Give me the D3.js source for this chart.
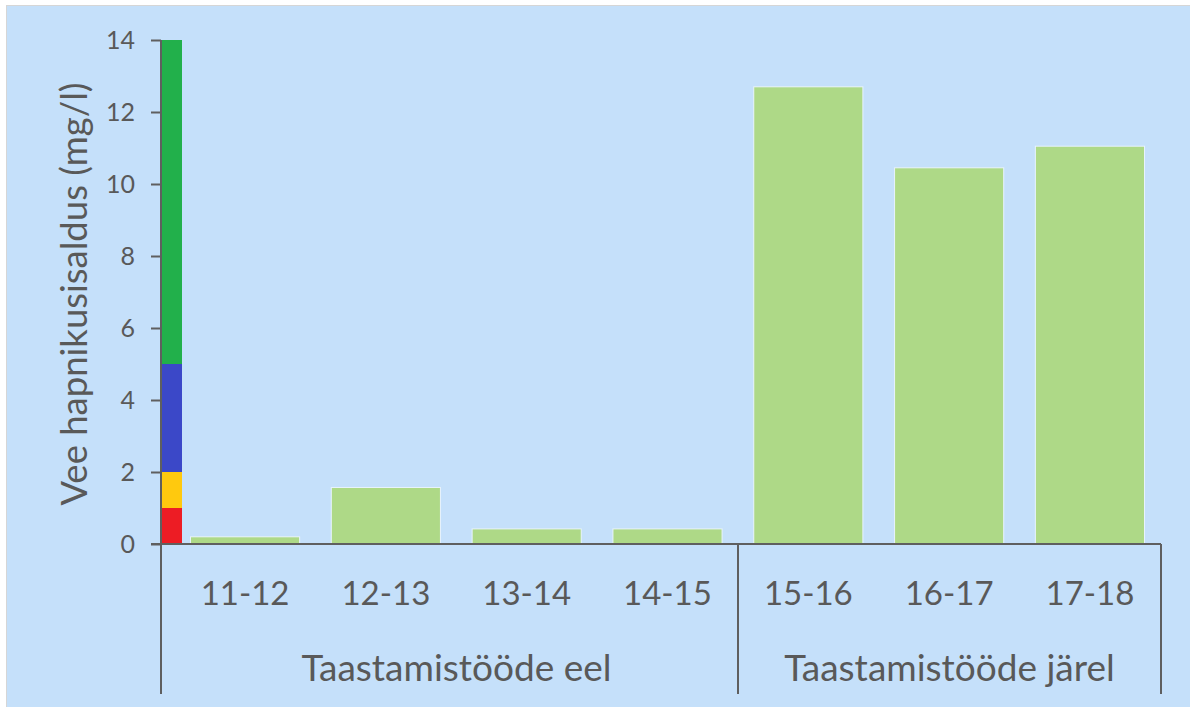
<!DOCTYPE html>
<html>
<head>
<meta charset="utf-8">
<script src="https://cdn.jsdelivr.net/npm/d3@7"></script>
<style>
  body { margin: 0; background: #ffffff; }
  text { font-family: Lato, "Open Sans", sans-serif; fill: #595959; }
</style>
</head>
<body>
<svg width="1190" height="707"></svg>
<script>
// andmed
var perioodid = ["11-12", "12-13", "13-14", "14-15", "15-16", "16-17", "17-18"];
var hapnik = [0.2, 1.57, 0.42, 0.42, 12.7, 10.45, 11.05];
var grupid = ["Taastamistööde eel", "Taastamistööde järel"];
var grupi_suurus = [4, 3];
var y_ticks = [0, 2, 4, 6, 8, 10, 12, 14];
// hapniku skaala värviline tulp (piirid ja värvid)
var skaala_piirid = [0, 1, 2, 5, 14];
var skaala_varvid = ["#ed1c24", "#ffc90e", "#3b48c8", "#22b04b"];

var svg = d3.select("svg"),
  width = +svg.attr("width"),
  height = +svg.attr("height"),
  axisColor = "#5f5f5f",
  x0 = 161, xEnd = 1161, yBottom = 694;

// taust
svg.append("rect")
  .attr("x", 6.5).attr("y", 5.5)
  .attr("width", width).attr("height", height)
  .attr("fill", "#c5e0fa")
  .attr("stroke", "#d6d6d6");

var y = d3.scaleLinear().domain([0, 14]).range([544, 40]);
var x = d3.scaleBand()
  .domain(perioodid)
  .range([175, 1160])
  .paddingInner(0.225)
  .paddingOuter(0.11);

// värviline skaala tulp telje kõrval
var skaala = d3.range(skaala_varvid.length).map(function(i) {
  return {from: skaala_piirid[i], to: skaala_piirid[i + 1], color: skaala_varvid[i]};
});
svg.append("g").selectAll("rect")
  .data(skaala)
  .enter().append("rect")
  .attr("x", x0)
  .attr("width", 21)
  .attr("y", function(d) { return y(d.to); })
  .attr("height", function(d) { return y(d.from) - y(d.to); })
  .attr("fill", function(d) { return d.color; });

// tulbad
svg.append("g").selectAll("rect")
  .data(hapnik)
  .enter().append("rect")
  .attr("x", function(d, i) { return x(perioodid[i]); })
  .attr("width", x.bandwidth())
  .attr("y", function(d) { return y(d); })
  .attr("height", function(d) { return y(0) - y(d); })
  .attr("fill", "#aed987")
  .attr("stroke", "#e8f3fd")
  .attr("stroke-width", 1);

// y telg
var yAxis = svg.append("g")
  .attr("transform", "translate(" + x0 + ",0)")
  .call(d3.axisLeft(y).tickValues(y_ticks).tickSize(10).tickPadding(16).tickSizeOuter(0));
yAxis.select(".domain").remove();
yAxis.selectAll(".tick line").attr("stroke", axisColor).attr("stroke-width", 2);
yAxis.selectAll(".tick text")
  .style("font-size", "25px")
  .attr("fill", "#595959");

// telgede jooned
svg.append("line")
  .attr("x1", x0).attr("x2", x0)
  .attr("y1", y(14)).attr("y2", yBottom)
  .attr("stroke", axisColor).attr("stroke-width", 2);
svg.append("line")
  .attr("x1", x0 - 10).attr("x2", xEnd)
  .attr("y1", y(0)).attr("y2", y(0))
  .attr("stroke", axisColor).attr("stroke-width", 2);

// kategooriate sildid
svg.append("g").selectAll("text")
  .data(perioodid)
  .enter().append("text")
  .attr("x", function(d) { return x(d) + x.bandwidth() / 2; })
  .attr("y", 605)
  .attr("text-anchor", "middle")
  .style("font-size", "33px")
  .text(function(d) { return d; });

// grupid
var algus = 0;
grupid.forEach(function(g, i) {
  var esimene = perioodid[algus],
      viimane = perioodid[algus + grupi_suurus[i] - 1];
  var gx0 = x(esimene) - x.step() * x.paddingInner() / 2,
      gx1 = x(viimane) + x.bandwidth() + x.step() * x.paddingInner() / 2;
  if (i === 0) { gx0 = 175; }
  if (i === grupid.length - 1) { gx1 = xEnd; }
  svg.append("text")
    .attr("x", (gx0 + gx1) / 2)
    .attr("y", 681)
    .attr("text-anchor", "middle")
    .style("font-size", "37px")
    .text(g);
  // eraldusjoon grupi paremal
  svg.append("line")
    .attr("x1", Math.round(gx1)).attr("x2", Math.round(gx1))
    .attr("y1", y(0)).attr("y2", yBottom)
    .attr("stroke", axisColor).attr("stroke-width", 2);
  algus += grupi_suurus[i];
});

// y telje pealkiri
svg.append("text")
  .attr("transform", "translate(87,294) rotate(-90)")
  .attr("text-anchor", "middle")
  .style("font-size", "36.5px")
  .text("Vee hapnikusisaldus (mg/l)");
</script>
</body>
</html>
